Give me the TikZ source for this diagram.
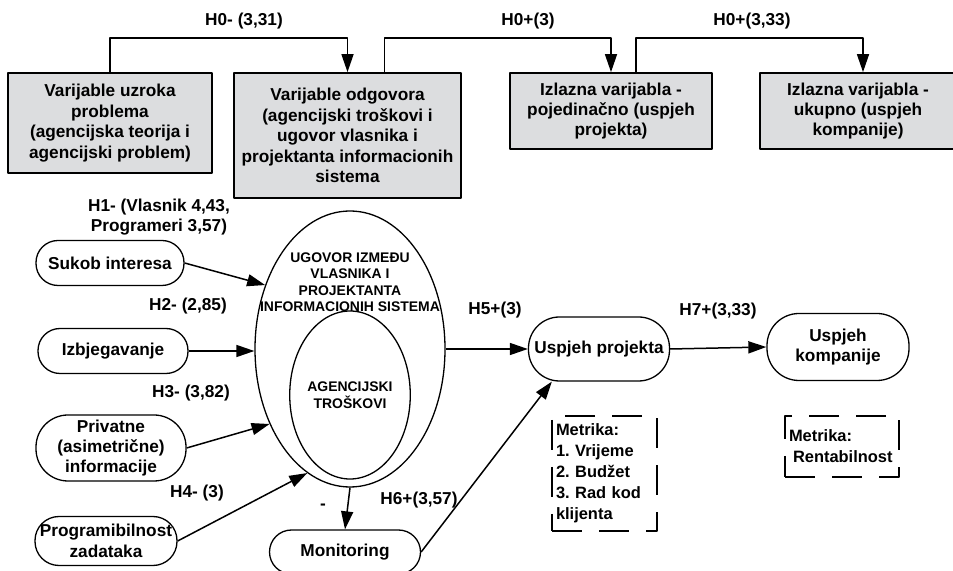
\documentclass[tikz,border=0pt]{standalone}
\usepackage{fontspec}
\setmainfont{Liberation Sans}
\usetikzlibrary{arrows.meta,shapes.geometric}
\definecolor{boxfill}{RGB}{220,221,223}
\frenchspacing

\begin{document}
\begin{tikzpicture}[>={Triangle[length=18bp,width=12bp]},line join=bevel,
  every node/.style={font=\bfseries\fontsize{17.3}{20.5}\selectfont},
  varbox/.style={draw,fill=boxfill,line width=1.7bp,align=center,inner sep=0pt},
  varnode/.style={draw,rectangle,rounded corners=22bp,line width=1.3bp,align=center,inner sep=0pt},
  ellnode/.style={draw,ellipse,line width=1.3bp,inner sep=0pt,align=center,
    font=\bfseries\fontsize{14}{16.5}\selectfont},
  metbox/.style={draw,dash pattern=on 30bp off 17bp,line width=1.3bp,align=left,inner sep=0pt,
    font=\bfseries\fontsize{16.5}{21}\selectfont}]
\pgfsetlinewidth{1.5bp}
\useasboundingbox (0bp,0bp) rectangle (953bp,571bp);

% Node: vu
\node (vu) at (110bp,448bp) [varbox,minimum width=204bp,minimum height=100bp]
  {Varijable uzroka\\problema\\(agencijska teorija i\\agencijski problem)};
% Node: vo
\node (vo) at (347.5bp,435.5bp) [varbox,minimum width=227bp,minimum height=125bp]
  {Varijable odgovora\\(agencijski troškovi i\\ugovor vlasnika i\\projektanta informacionih\\sistema};
% Node: ip
\node (ip) at (611bp,460bp) [varbox,minimum width=202bp,minimum height=76bp]
  {Izlazna varijabla -\\pojedinačno (uspjeh\\projekta)};
% Node: iu
\node (iu) at (858bp,460bp) [varbox,minimum width=196bp,minimum height=76bp]
  {Izlazna varijabla -\\ukupno (uspjeh\\kompanije)};

% Edge: vu -> vo
\draw [->] (vu.north) -- ++(0bp,34bp) -| (vo.north);
\node (h0a) at (244bp,550bp) {H0- (3,31)};
% Edge: vo -> ip
\draw [->] ([xshift=37bp]vo.north) -- ++(0bp,34bp) -| (ip.north);
\node (h0b) at (528bp,550bp) {H0+(3)};
% Edge: ip -> iu
\draw [->] ([xshift=25bp]ip.north) -- ++(0bp,34bp) -| ([xshift=5bp]iu.north);
\node (h0c) at (752bp,550bp) {H0+(3,33)};

% Node: ug
\node (ug) at (350bp,222bp) [ellnode,minimum width=190bp,minimum height=276bp] {};
\node (ugt) at (350bp,289bp) [align=center,font=\bfseries\fontsize{14}{16.5}\selectfont]
  {UGOVOR IZMEĐU\\VLASNIKA I\\PROJEKTANTA\\INFORMACIONIH SISTEMA};
% Node: at
\node (at) at (350bp,176bp) [ellnode,minimum width=116bp,minimum height=168bp]
  {AGENCIJSKI\\TROŠKOVI};

% Node: si
\node (si) at (110bp,308bp) [varnode,minimum width=148bp,minimum height=45bp] {Sukob interesa};
% Node: iz
\node (iz) at (113bp,220bp) [varnode,minimum width=150bp,minimum height=45bp] {Izbjegavanje};
% Node: pi
\node (pi) at (111bp,123bp) [varnode,minimum width=150bp,minimum height=66bp,rounded corners=32bp]
  {Privatne\\(asimetrične)\\informacije};
% Node: pz
\node (pz) at (106bp,30bp) [varnode,minimum width=142bp,minimum height=49bp,rounded corners=24bp]
  {Programibilnost\\zadataka};
% Node: mo
\node (mo) at (345bp,19bp) [varnode,minimum width=151bp,minimum height=44bp] {Monitoring};
% Node: up
\node (up) at (599bp,222bp) [varnode,minimum width=141bp,minimum height=64bp,rounded corners=31bp]
  {Uspjeh projekta};
% Node: uk
\node (uk) at (838bp,224bp) [varnode,minimum width=142bp,minimum height=67bp,rounded corners=32bp]
  {Uspjeh\\kompanije};

% Edge: si -> ug
\draw [->] (si.east) -- (ug.143);
\node (h1) at (159bp,354bp) [align=center] {H1- (Vlasnik 4,43,\\Programeri 3,57)};
% Edge: iz -> ug
\draw [->] (iz.east) -- (iz.east -| ug.west);
\node (h2) at (188bp,265bp) {H2- (2,85)};
% Edge: pi -> ug
\draw [->] (pi.east) -- (ug.223);
\node (h3) at (191bp,178bp) {H3- (3,82)};
% Edge: pz -> ug
\draw [->] (pz.east) -- (ug.251);
\node (h4) at (197bp,78bp) {H4- (3)};
% Edge: ug -> mo
\draw [->] (ug.south) -- (mo.north);
\node (mn) at (323bp,64bp) {-};
% Edge: ug -> up
\draw [->] (ug.east) -- (up.west);
\node (h5) at (495bp,261bp) {H5+(3)};
% Edge: mo -> up
\draw [->] (mo.east) -- ([xshift=24bp]up.south west);
\node (h6) at (419bp,71bp) {H6+(3,57)};
% Edge: up -> uk
\draw [->] (up.east) -- (uk.west);
\node (h7) at (718bp,260bp) {H7+(3,33)};

% Node: m1
\node (m1) at (604.5bp,97.5bp) [metbox,minimum width=105bp,minimum height=115bp,text width=97bp]
  {Metrika:\\1. Vrijeme\\2. Budžet\\3. Rad kod\\klijenta};
% Node: m2
\node (m2) at (842bp,124.5bp) [metbox,minimum width=114bp,minimum height=61bp,text width=106bp]
  {Metrika:\\\hspace*{4bp}Rentabilnost};
%
\end{tikzpicture}
\end{document}
